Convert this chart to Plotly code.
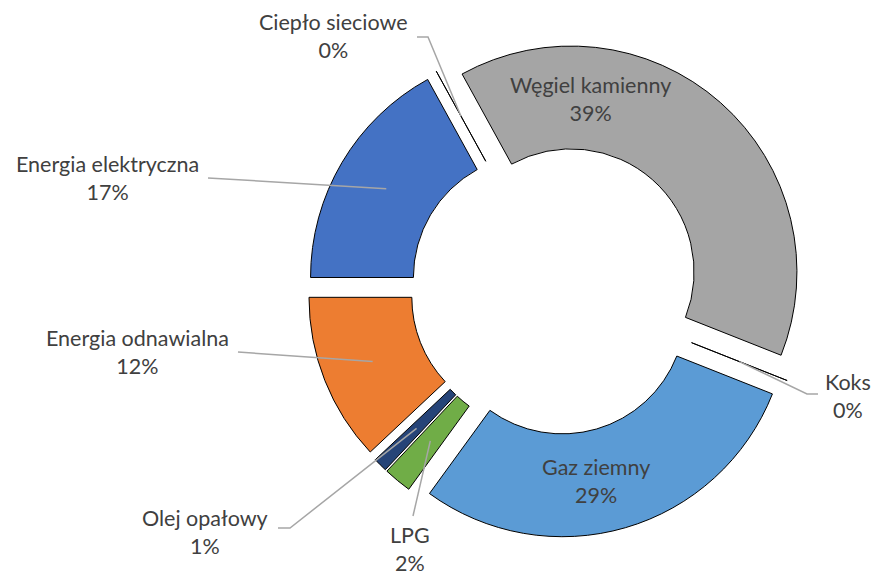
import math
import plotly.graph_objects as go

# ---- data ----
labels = ["Węgiel kamienny", "Koks", "Gaz ziemny", "LPG", "Olej opałowy",
          "Energia odnawialna", "Energia elektryczna", "Ciepło sieciowe"]
values = [39, 0, 29, 2, 1, 12, 17, 0]
colors = ["#A5A5A5", "#A5A5A5", "#5B9BD5", "#70AD47", "#264478",
          "#ED7D31", "#4472C4", "#FFC000"]

# label text centers (pixels) and leader-line start points (pixels)
label_pos = {
    "Węgiel kamienny": (590, 99),
    "Koks": (848, 396),
    "Gaz ziemny": (596, 481),
    "LPG": (410, 549),
    "Olej opałowy": (205, 532),
    "Energia odnawialna": (137, 352),
    "Energia elektryczna": (107, 178),
    "Ciepło sieciowe": (333, 36),
}
leader_start = {
    "Koks": [(818, 394), (807, 394)],
    "LPG": [(413, 516)],
    "Olej opałowy": [(278, 528), (290, 528)],
    "Energia odnawialna": [(238, 352)],
    "Energia elektryczna": [(208, 178)],
    "Ciepło sieciowe": [(417, 37), (428, 37)],
}

W, H = 872, 577
ROT = 331.2
PULL = 0.10
HOLE = 0.545
R = 226.0
CX, CY = 556.0, 289.0
box = 2 * R * (1 + PULL)
dom_x = [(CX - box / 2) / W, (CX + box / 2) / W]
dom_y = [((H - CY) - box / 2) / H, ((H - CY) + box / 2) / H]

fig = go.Figure(go.Pie(
    labels=labels, values=values, sort=False, direction="clockwise",
    rotation=ROT, hole=HOLE, pull=[PULL] * len(values),
    marker=dict(colors=colors, line=dict(color="#000000", width=1)),
    textinfo="none", hoverinfo="skip", showlegend=False,
    domain=dict(x=dom_x, y=dom_y),
))

def px2paper(p):
    return p[0] / W, 1 - p[1] / H

total = sum(values)
cum = 0
shapes = []
annotations = []
rmid = R * (1 + HOLE) / 2
for lab, v in zip(labels, values):
    mid = math.radians(ROT + (cum + v / 2) / total * 360)
    cum += v
    d = PULL * R + rmid
    anchor = (CX + d * math.sin(mid), CY - d * math.cos(mid))
    if lab in leader_start:
        pts = leader_start[lab] + [anchor]
        pp = [px2paper(p) for p in pts]
        path = "M " + " L ".join(f"{x:.5f},{y:.5f}" for x, y in pp)
        shapes.append(dict(type="path", path=path, xref="paper", yref="paper",
                           line=dict(color="#A6A6A6", width=1.5)))
    pct = round(v / total * 100)
    lx, ly = px2paper(label_pos[lab])
    annotations.append(dict(
        x=lx, y=ly, xref="paper", yref="paper", showarrow=False,
        text=f"{lab}<br>{pct}%", xanchor="center", yanchor="middle",
        font=dict(family="Lato", size=21.5, color="#404040"),
    ))

fig.update_layout(
    width=W, height=H, margin=dict(l=0, r=0, t=0, b=0),
    paper_bgcolor="white", plot_bgcolor="white",
    shapes=shapes, annotations=annotations,
)
fig.write_html("out.html", config={"displayModeBar": False},
               post_script="document.body.style.margin='0';")
